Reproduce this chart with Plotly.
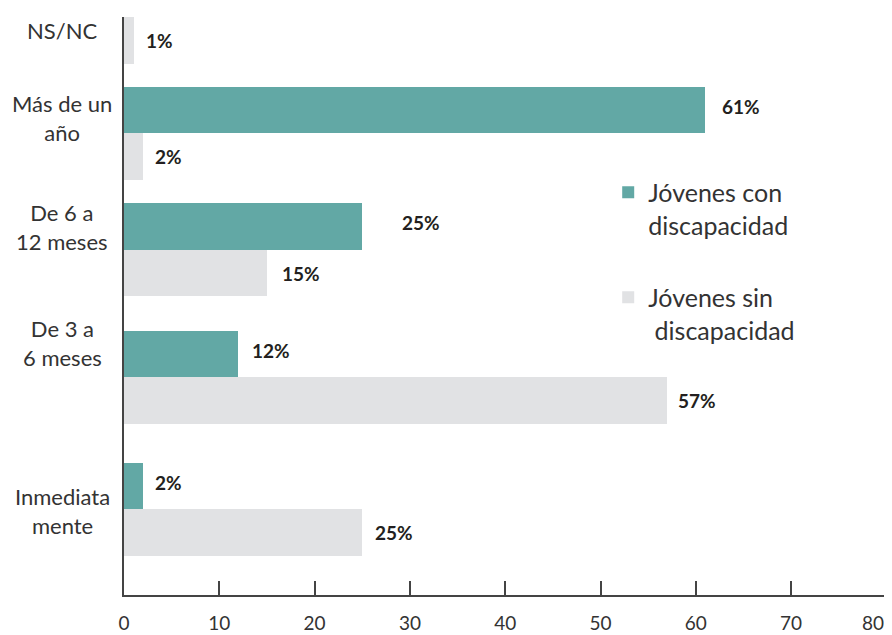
import plotly.graph_objects as go

# Data
categories = ["Inmediatamente", "De 3 a 6 meses", "De 6 a 12 meses", "Más de un año", "NS/NC"]
cat_labels = ["Inmediata<br>mente", "De 3 a<br>6 meses", "De 6 a<br>12 meses", "Más de un<br>año", "NS/NC"]
con_disc = [2, 12, 25, 61, None]
sin_disc = [25, 57, 15, 2, 1]
series_names = ["Jóvenes con<br>discapacidad", "Jóvenes sin<br> discapacidad"]
x_ticks = [0, 10, 20, 30, 40, 50, 60, 70, 80]

# Layout helpers (positions on a numeric category axis, reversed)
group_pos = [10.59, 7.75, 5.01, 2.50, 0.0]
label_pos = [10.62, 7.01, 4.52, 2.17, 0.28]
con_dx = [10, 12, 38, 15, 0]
sin_dx = [11, 9, 13, 10, 10]

TEAL = "#62A8A5"
GRAY = "#E1E2E4"
TXT = "#333333"
FONT = "Lato"

con_y = [p - 0.5 for p in group_pos]
sin_y = [p + 0.5 for p in group_pos]

fig = go.Figure()
fig.add_trace(go.Bar(
    x=con_disc, y=con_y, orientation="h", width=1.0,
    marker=dict(color=TEAL, line=dict(width=0)),
    name=series_names[0], legendgroup="a",
))
fig.add_trace(go.Bar(
    x=sin_disc, y=sin_y, orientation="h", width=1.0,
    marker=dict(color=GRAY, line=dict(width=0)),
    name=series_names[1], legendgroup="b",
))

annotations = []
for v, y, dx in zip(con_disc, con_y, con_dx):
    if v is None:
        continue
    annotations.append(dict(x=v, y=y, xref="x", yref="y", text=f"<b>{v}%</b>",
                            showarrow=False, xanchor="left", xshift=dx, yshift=4,
                            font=dict(family=FONT, size=19, color="#231F20")))
for v, y, dx in zip(sin_disc, sin_y, sin_dx):
    annotations.append(dict(x=v, y=y, xref="x", yref="y", text=f"<b>{v}%</b>",
                            showarrow=False, xanchor="left", xshift=dx,
                            font=dict(family=FONT, size=19, color="#231F20")))
for lab, y in zip(cat_labels, label_pos):
    annotations.append(dict(x=-0.081, y=y, xref="paper", yref="y", text=lab,
                            showarrow=False, xanchor="center", align="center",
                            font=dict(family=FONT, size=22, color=TXT)))

# last tick label drawn right-aligned to its tick so it stays inside the page
tick_text = [str(t) for t in x_ticks]
tick_text[-1] = ""
annotations.append(dict(x=x_ticks[-1], y=0, xref="x", yref="paper", text=str(x_ticks[-1]),
                        showarrow=False, xanchor="right", yanchor="top", yshift=-14,
                        font=dict(family=FONT, size=19, color=TXT)))

fig.update_layout(
    width=884, height=627,
    margin=dict(l=116, r=5, t=9, b=40),
    paper_bgcolor="white", plot_bgcolor="white",
    barmode="overlay",
    bargap=0,
    annotations=annotations,
    showlegend=True,
    legend=dict(
        x=0.6346, y=0.736, xanchor="left", yanchor="top",
        font=dict(family=FONT, size=25, color=TXT),
        valign="top", traceorder="grouped", tracegroupgap=37,
        bgcolor="rgba(0,0,0,0)",
    ),
    xaxis=dict(
        range=[0, 80.06], tickvals=x_ticks, ticktext=tick_text,
        showgrid=False, zeroline=False,
        showline=True, linecolor="#444444", linewidth=1.5,
        ticks="inside", ticklen=14, tickwidth=1.5, tickcolor="#444444",
        tickfont=dict(family=FONT, size=19, color=TXT),
        ticklabelstandoff=10, automargin=False,
    ),
    yaxis=dict(
        range=[12.43, 0], showgrid=False, zeroline=False,
        showline=True, linecolor="#444444", linewidth=1.5,
        showticklabels=False, ticks="",
    ),
)

fig.write_html("out.html")
